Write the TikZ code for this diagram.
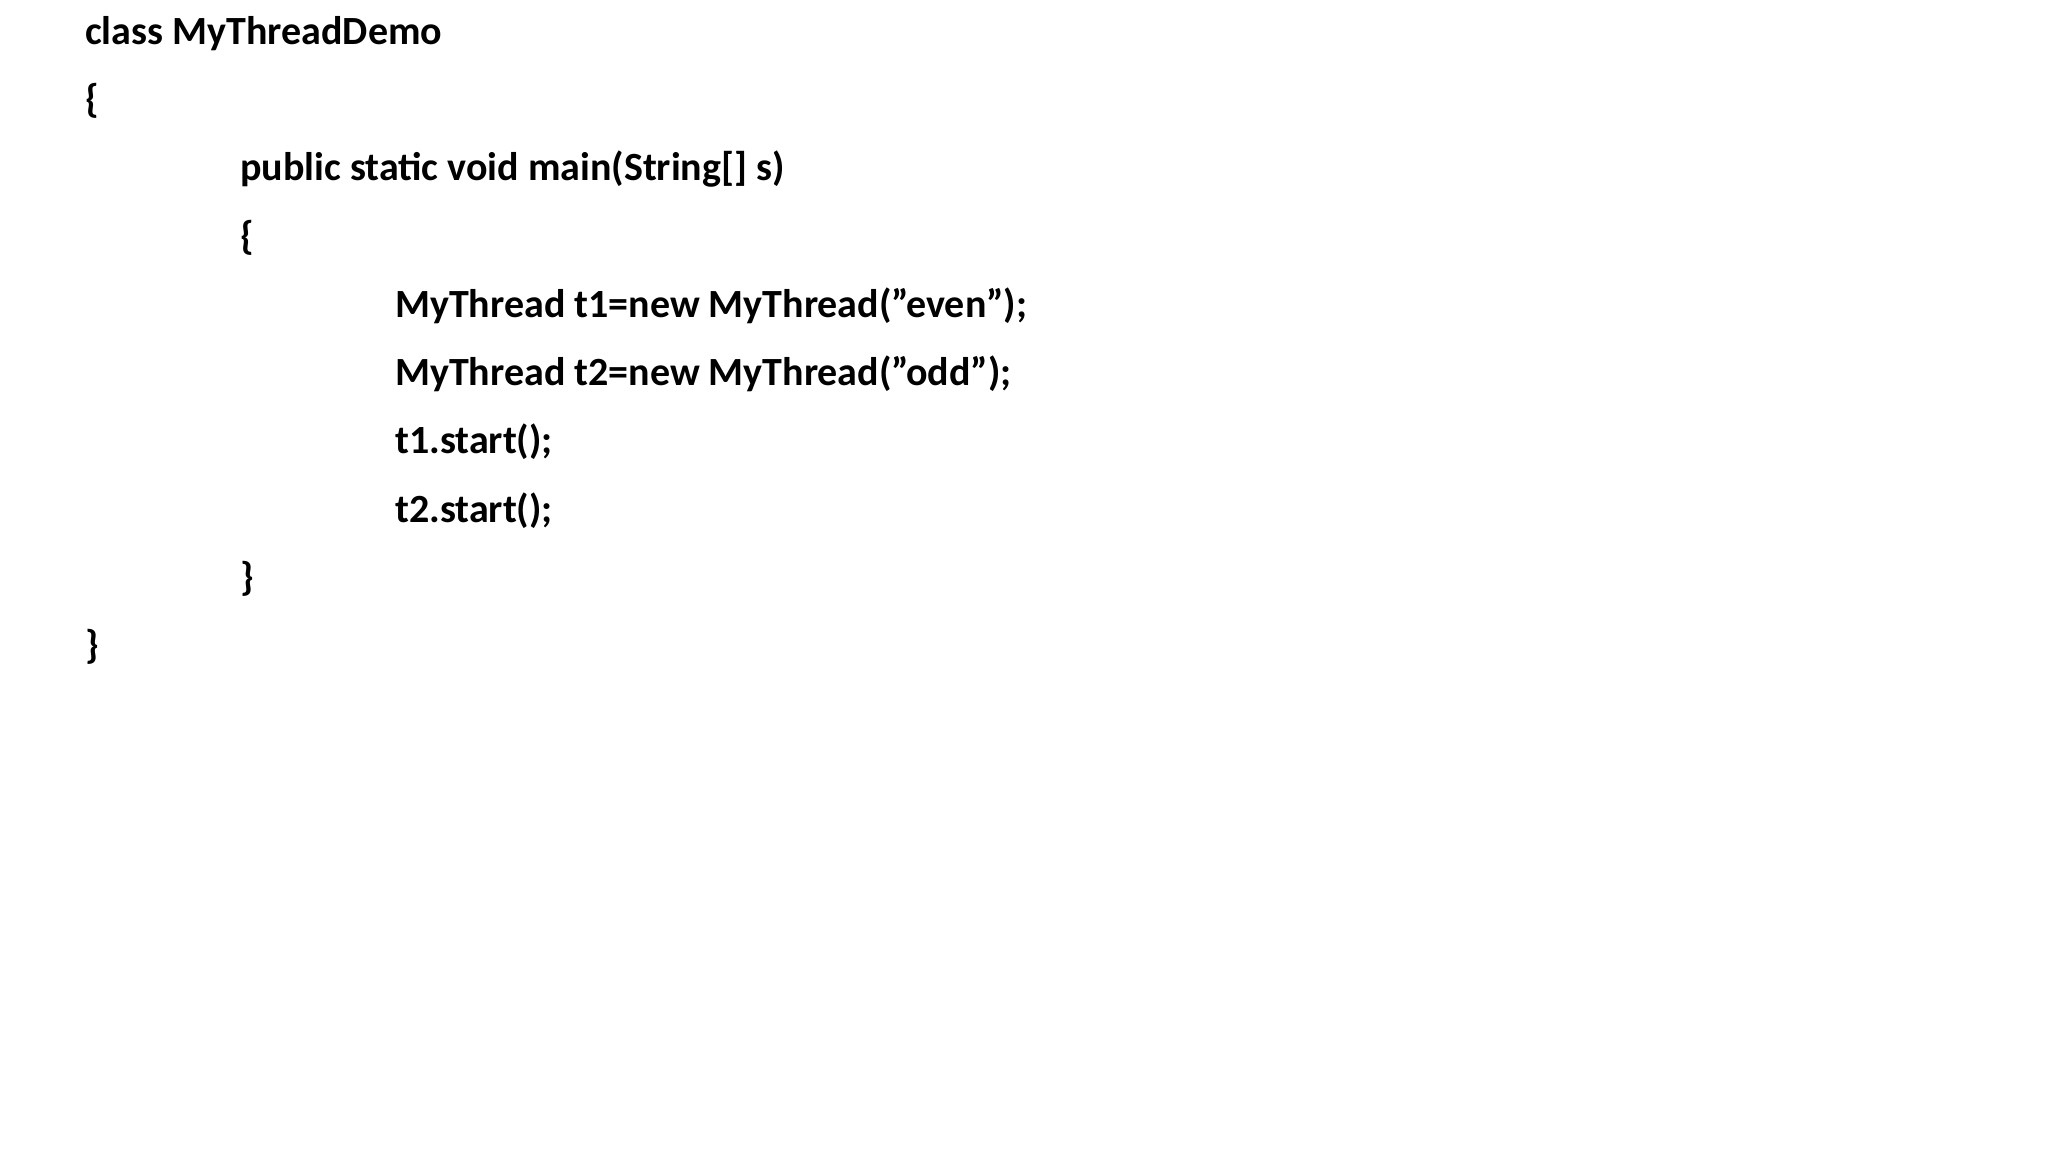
\documentclass[tikz,border=0pt]{standalone}
\usepackage{fontspec}
\setmainfont{Carlito}
\begin{document}
\begin{tikzpicture}[x=1pt,y=-1pt,code/.style={anchor=base west,inner sep=0pt,font=\bfseries\fontsize{40}{48}\selectfont}]
\useasboundingbox (0,0) rectangle (2048,1152);
\node[code] (l0) at (85,44) {class MyThreadDemo};
\node[code] (l1) at (85,112) {\{};
\node[code] (l2) at (240,180) {public static void main(String[] s)};
\node[code] (l3) at (240,249) {\{};
\node[code] (l4) at (395,317) {MyThread t1=new MyThread("even");};
\node[code] (l5) at (395,385) {MyThread t2=new MyThread("odd");};
\node[code] (l6) at (395,453) {t1.start();};
\node[code] (l7) at (395,522) {t2.start();};
\node[code] (l8) at (240,590) {\}};
\node[code] (l9) at (85,658) {\}};
\end{tikzpicture}
\end{document}
